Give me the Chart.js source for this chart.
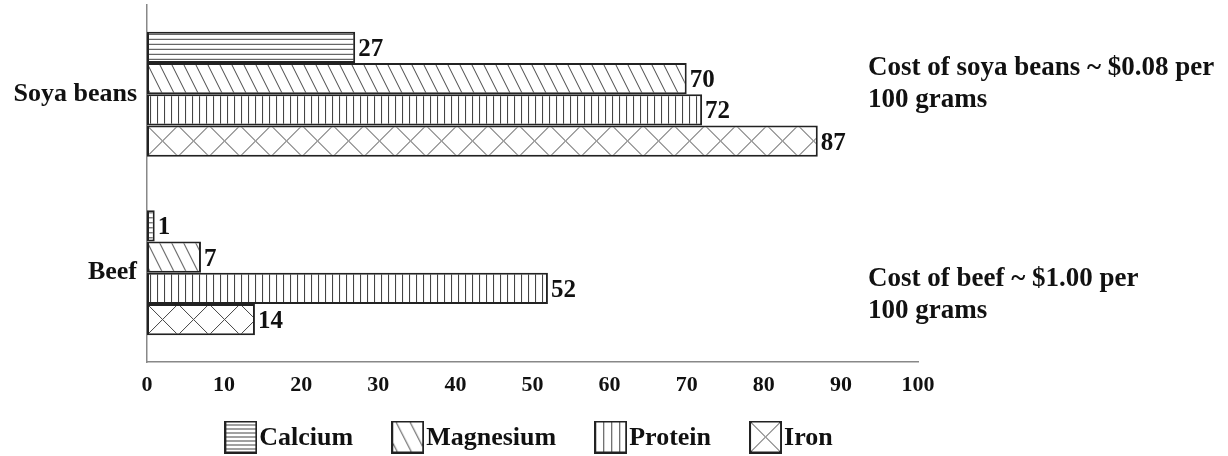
<!DOCTYPE html>
<html>
<head>
<meta charset="utf-8">
<script src="https://cdn.jsdelivr.net/npm/chart.js@4.4.0/dist/chart.umd.min.js"></script>
<style>
  html, body { margin: 0; padding: 0; background: #fff; }
  #wrap { width: 1228px; height: 456px; }
</style>
</head>
<body>
<div id="wrap"><canvas id="barChart" width="1228" height="456"></canvas></div>
<script>
var categories = ["Soya beans", "Beef"];
var nutrients = ["Calcium", "Magnesium", "Protein", "Iron"];
var calcium = [27, 1];
var magnesium = [70, 7];
var protein = [72, 52];
var iron = [87, 14];
var xTicks = [0, 10, 20, 30, 40, 50, 60, 70, 80, 90, 100];
var costNotes = [
    ["Cost of soya beans ~ $0.08 per", "100 grams"],
    ["Cost of beef ~ $1.00 per", "100 grams"]
];

var serif = '"Liberation Serif", "Times New Roman", serif';
var lineColor = '#444';
var edgeColor = '#222';

// small tiles for the hatch patterns
function makeTile(kind) {
    var c = document.createElement('canvas');
    var w = 10, h = 10;
    if (kind == 'horizontal') { w = 10; h = 5; }
    if (kind == 'diagonal') { w = 12; h = 24; }
    if (kind == 'vertical') { w = 7; h = 10; }
    if (kind == 'cross') { w = 31; h = 31; }
    c.width = w; c.height = h;
    var g = c.getContext('2d');
    g.fillStyle = '#fff';
    g.fillRect(0, 0, w, h);
    g.strokeStyle = lineColor;
    g.lineWidth = 1;
    g.beginPath();
    if (kind == 'horizontal') { g.moveTo(0, 2.5); g.lineTo(w, 2.5); }
    if (kind == 'vertical') { g.moveTo(3.5, 0); g.lineTo(3.5, h); }
    if (kind == 'diagonal') {
        g.moveTo(0, 0); g.lineTo(w, h);
        g.moveTo(-w, 0); g.lineTo(0, h);
        g.moveTo(w, 0); g.lineTo(2 * w, h);
    }
    if (kind == 'cross') {
        g.moveTo(0, 0); g.lineTo(w, h);
        g.moveTo(w, 0); g.lineTo(0, h);
    }
    g.stroke();
    return c;
}

// legend boxes
function makeIcon(kind) {
    var s = 33;
    var c = document.createElement('canvas');
    c.width = s; c.height = s;
    var g = c.getContext('2d');
    g.fillStyle = '#fff';
    g.fillRect(0, 0, s, s);
    g.strokeStyle = lineColor;
    g.lineWidth = 1;
    g.beginPath();
    var i;
    if (kind == 'horizontal') { for (i = 4.5; i < s; i += 4) { g.moveTo(0, i); g.lineTo(s, i); } }
    if (kind == 'vertical') { for (i = 9.5; i < s - 4; i += 8) { g.moveTo(i, 0); g.lineTo(i, s); } }
    if (kind == 'diagonal') { for (i = -10; i < s; i += 14) { g.moveTo(i, 0); g.lineTo(i + 17, s); } }
    if (kind == 'cross') { g.moveTo(0, 0); g.lineTo(s, s); g.moveTo(s, 0); g.lineTo(0, s); }
    g.stroke();
    g.strokeStyle = edgeColor;
    g.lineWidth = 2;
    g.strokeRect(1, 1, s - 2, s - 2);
    return c;
}

var kinds = ['horizontal', 'diagonal', 'vertical', 'cross'];
var series = [calcium, magnesium, protein, iron];
var canvas = document.getElementById('barChart');
var ctx = canvas.getContext('2d');
var icons = kinds.map(makeIcon);

var datasets = series.map(function (values, i) {
    var tile = makeTile(kinds[i]);
    return {
        label: nutrients[i],
        data: values,
        backgroundColor: values.map(function () { return ctx.createPattern(tile, 'repeat'); }),
        borderColor: edgeColor,
        borderWidth: 2,
        borderSkipped: false
    };
});

// anchor every pattern at the top left corner of its bar
var patternAnchor = {
    id: 'patternAnchor',
    beforeDatasetsDraw: function (chart) {
        chart.data.datasets.forEach(function (ds, i) {
            chart.getDatasetMeta(i).data.forEach(function (el, j) {
                var top = el.y - el.height / 2;
                ds.backgroundColor[j].setTransform(new DOMMatrix([1, 0, 0, 1, el.base, top]));
            });
        });
    }
};

var valueLabels = {
    id: 'valueLabels',
    afterDatasetsDraw: function (chart) {
        var c = chart.ctx;
        c.save();
        c.font = 'bold 25px ' + serif;
        c.fillStyle = '#111';
        c.textBaseline = 'middle';
        chart.data.datasets.forEach(function (ds, i) {
            chart.getDatasetMeta(i).data.forEach(function (el, j) {
                c.fillText(ds.data[j], el.x + 3, el.y + 2);
            });
        });
        c.restore();
    }
};

var costText = {
    id: 'costText',
    afterDraw: function (chart) {
        var c = chart.ctx;
        var yScale = chart.scales.y;
        var shift = [-26, 6];
        c.save();
        c.font = 'bold 27px ' + serif;
        c.fillStyle = '#111';
        c.textBaseline = 'middle';
        costNotes.forEach(function (lines, i) {
            var y = yScale.getPixelForValue(i) + shift[i];
            lines.forEach(function (t, k) {
                c.fillText(t, chart.chartArea.right - 50, y + k * 32);
            });
        });
        c.restore();
    }
};

var patternLegend = {
    id: 'patternLegend',
    afterDraw: function (chart) {
        var c = chart.ctx;
        var box = 33, gap = 2, spacing = 38;
        c.save();
        c.font = 'bold 26px ' + serif;
        c.fillStyle = '#111';
        c.textBaseline = 'middle';
        var widths = nutrients.map(function (n) { return box + gap + c.measureText(n).width; });
        var total = widths.reduce(function (a, b) { return a + b; }, 0) + spacing * (widths.length - 1);
        var x = (chart.chartArea.left + chart.chartArea.right) / 2 - 4 - total / 2;
        var y = chart.chartArea.bottom + 75;
        nutrients.forEach(function (n, i) {
            c.drawImage(icons[i], x, y - box / 2);
            c.fillText(n, x + box + gap, y + 1);
            x += widths[i] + spacing;
        });
        c.restore();
    }
};

var myBarChart = new Chart(canvas, {
    type: 'bar',
    data: {
        labels: categories,
        datasets: datasets
    },
    options: {
        indexAxis: 'y',
        responsive: false,
        animation: false,
        layout: { padding: { top: 5, right: 310, bottom: 54, left: 0 } },
        datasets: { bar: { barPercentage: 1, categoryPercentage: 0.7 } },
        plugins: {
            legend: { display: false },
            tooltip: { enabled: false }
        },
        scales: {
            x: {
                min: 0,
                max: 100,
                afterBuildTicks: function (scale) {
                    scale.ticks = xTicks.map(function (v) { return { value: v }; });
                },
                afterFit: function (scale) { scale.height = 40; },
                grid: { display: false, drawTicks: false },
                border: { color: '#888', width: 1.5 },
                ticks: {
                    color: '#111',
                    padding: 10,
                    maxRotation: 0,
                    font: { family: serif, weight: 'bold', size: 22 }
                }
            },
            y: {
                afterFit: function (scale) {
                    scale.width = 147;
                    scale.paddingTop = 0;
                    scale.paddingBottom = 0;
                },
                grid: { display: false, drawTicks: false },
                border: { color: '#888', width: 1.5 },
                ticks: {
                    color: '#111',
                    padding: 10,
                    font: { family: serif, weight: 'bold', size: 26 }
                }
            }
        }
    },
    plugins: [patternAnchor, valueLabels, costText, patternLegend]
});
</script>
</body>
</html>
